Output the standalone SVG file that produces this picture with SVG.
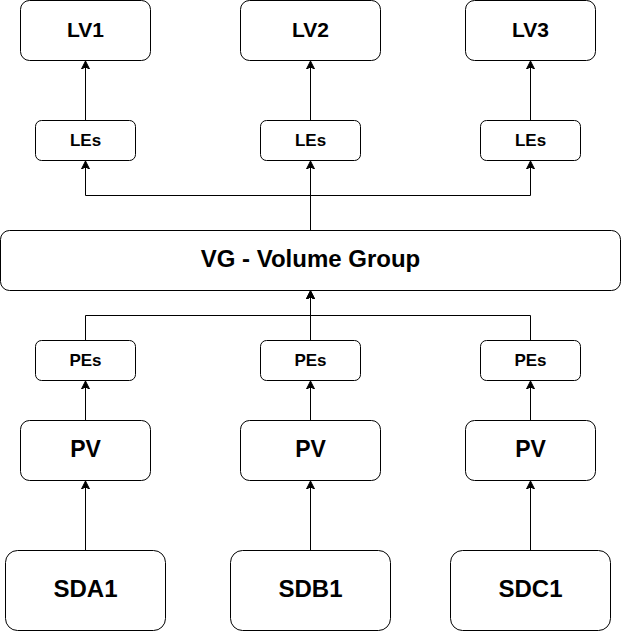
<svg xmlns="http://www.w3.org/2000/svg" width="621" height="631" viewBox="0 0 621 631">
<style>
.n{fill:#fff;stroke:#000;stroke-width:1}
.t{font-family:"Liberation Sans",Arial,sans-serif;font-weight:bold;fill:#000;text-anchor:middle}
.c{fill:none;stroke:#000;stroke-width:1}
</style>
<defs>
<marker id="a" markerUnits="userSpaceOnUse" markerWidth="10" markerHeight="10" refX="7" refY="4" orient="auto" viewBox="0 0 10 8">
<path d="M0,0 L8,4 L0,8 L2,4 Z" fill="#000" stroke="#000" stroke-width="1"/>
</marker>
</defs>
<rect width="621" height="631" fill="#fff"/>
<g id="connectors">
<path class="c" d="M85.5,120.5 V62" marker-end="url(#a)"/>
<path class="c" d="M310.5,120.5 V62" marker-end="url(#a)"/>
<path class="c" d="M530.5,120.5 V62" marker-end="url(#a)"/>
<path class="c" d="M310.5,230.5 V162" marker-end="url(#a)"/>
<path class="c" d="M310.5,230.5 V195.5 H85.5 V162" marker-end="url(#a)"/>
<path class="c" d="M310.5,230.5 V195.5 H530.5 V162" marker-end="url(#a)"/>
<path class="c" d="M310.5,340.5 V292" marker-end="url(#a)"/>
<path class="c" d="M85.5,340.5 V315.5 H310.5 V292" marker-end="url(#a)"/>
<path class="c" d="M530.5,340.5 V315.5 H310.5 V292" marker-end="url(#a)"/>
<path class="c" d="M85.5,420.5 V382" marker-end="url(#a)"/>
<path class="c" d="M310.5,420.5 V382" marker-end="url(#a)"/>
<path class="c" d="M530.5,420.5 V382" marker-end="url(#a)"/>
<path class="c" d="M85.5,550.5 V482" marker-end="url(#a)"/>
<path class="c" d="M310.5,550.5 V482" marker-end="url(#a)"/>
<path class="c" d="M530.5,550.5 V482" marker-end="url(#a)"/>
</g>
<g id="lv1"><rect class="n" x="20.5" y="0.5" width="130" height="60" rx="9"/><text class="t" x="85.5" y="37" font-size="21">LV1</text></g>
<g id="lv2"><rect class="n" x="240.5" y="0.5" width="140" height="60" rx="9"/><text class="t" x="310.5" y="37" font-size="21">LV2</text></g>
<g id="lv3"><rect class="n" x="465.5" y="0.5" width="130" height="60" rx="9"/><text class="t" x="530.5" y="37" font-size="21">LV3</text></g>
<g id="les1"><rect class="n" x="35.5" y="120.5" width="100" height="40" rx="6"/><text class="t" x="85.5" y="145.5" font-size="17">LEs</text></g>
<g id="les2"><rect class="n" x="260.5" y="120.5" width="100" height="40" rx="6"/><text class="t" x="310.5" y="145.5" font-size="17">LEs</text></g>
<g id="les3"><rect class="n" x="480.5" y="120.5" width="100" height="40" rx="6"/><text class="t" x="530.5" y="145.5" font-size="17">LEs</text></g>
<g id="vg"><rect class="n" x="0.5" y="230.5" width="620" height="60" rx="9"/><text class="t" x="310.5" y="266.5" font-size="24">VG - Volume Group</text></g>
<g id="pes1"><rect class="n" x="35.5" y="340.5" width="100" height="40" rx="6"/><text class="t" x="85.5" y="365.5" font-size="17">PEs</text></g>
<g id="pes2"><rect class="n" x="260.5" y="340.5" width="100" height="40" rx="6"/><text class="t" x="310.5" y="365.5" font-size="17">PEs</text></g>
<g id="pes3"><rect class="n" x="480.5" y="340.5" width="100" height="40" rx="6"/><text class="t" x="530.5" y="365.5" font-size="17">PEs</text></g>
<g id="pv1"><rect class="n" x="20.5" y="420.5" width="130" height="60" rx="9"/><text class="t" x="85.5" y="457" font-size="23">PV</text></g>
<g id="pv2"><rect class="n" x="240.5" y="420.5" width="140" height="60" rx="9"/><text class="t" x="310.5" y="457" font-size="23">PV</text></g>
<g id="pv3"><rect class="n" x="465.5" y="420.5" width="130" height="60" rx="9"/><text class="t" x="530.5" y="457" font-size="23">PV</text></g>
<g id="sda1"><rect class="n" x="5.5" y="550.5" width="160" height="80" rx="12"/><text class="t" x="85.5" y="597" font-size="24">SDA1</text></g>
<g id="sdb1"><rect class="n" x="230.5" y="550.5" width="160" height="80" rx="12"/><text class="t" x="310.5" y="597" font-size="24">SDB1</text></g>
<g id="sdc1"><rect class="n" x="450.5" y="550.5" width="160" height="80" rx="12"/><text class="t" x="530.5" y="597" font-size="24">SDC1</text></g>
</svg>
